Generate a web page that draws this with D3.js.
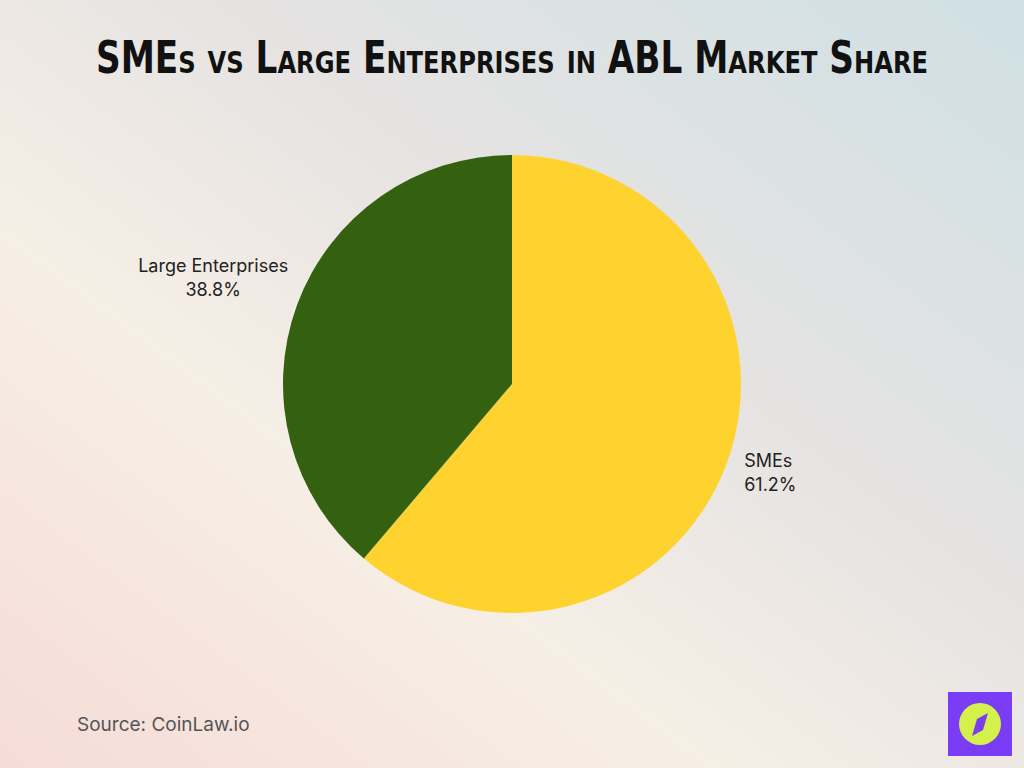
<!doctype html>
<html>
<head>
  <meta charset="utf-8">
  <script src="https://cdn.jsdelivr.net/npm/d3@7"></script>
  <style>
    body { margin: 0; }
  </style>
</head>
<body>
  <svg width="1024" height="768"></svg>
  <script>
    var categories = ["SMEs", "Large Enterprises"]
    var shares = [61.2, 38.8]
    var colors = ["#fed330", "#33610f"]

    var svg = d3.select("svg")

    // background wash
    var defs = svg.append("defs")
    var g1 = defs.append("linearGradient").attr("id", "bg")
      .attr("x1", "0").attr("y1", "1").attr("x2", "1").attr("y2", "0")
    g1.append("stop").attr("offset", "0").attr("stop-color", "#f6dcd6")
    g1.append("stop").attr("offset", "0.35").attr("stop-color", "#f6efe6")
    g1.append("stop").attr("offset", "0.6").attr("stop-color", "#e6e3e2")
    g1.append("stop").attr("offset", "1").attr("stop-color", "#cfe0e4")
    svg.append("rect").attr("width", 1024).attr("height", 768).attr("fill", "url(#bg)")

    svg.append("text")
      .attr("x", 96).attr("y", 73)
      .attr("textLength", 832).attr("lengthAdjust", "spacingAndGlyphs")
      .style("font-family", "'DejaVu Sans Condensed', sans-serif")
      .style("font-weight", "bold")
      .style("font-variant", "small-caps")
      .style("font-size", "44px")
      .attr("fill", "#111")
      .text("SMEs vs Large Enterprises in ABL Market Share")

    var cx = 512, cy = 384, r = 229
    var pie = d3.pie().sort(null).value(function(d){ return d })
    var arcs = pie(shares)
    var arc = d3.arc().innerRadius(0).outerRadius(r)

    var g = svg.append("g").attr("transform", "translate(" + cx + "," + cy + ")")
    g.selectAll("path").data(arcs).enter().append("path")
      .attr("d", arc)
      .attr("fill", function(d, i){ return colors[i] })

    // right-side labels sit close to the rim, left-side ones further out and centred
    function isLeft(d){ return (d.startAngle + d.endAngle) / 2 > Math.PI }
    var nearArc = d3.arc().innerRadius(r * 1.08).outerRadius(r * 1.08)
    var farArc = d3.arc().innerRadius(r * 1.39).outerRadius(r * 1.39)
    g.selectAll("text.lbl").data(arcs).enter().append("text")
      .attr("class", "lbl")
      .attr("transform", function(d){ return "translate(" + (isLeft(d) ? farArc : nearArc).centroid(d) + ")" })
      .attr("text-anchor", function(d){ return isLeft(d) ? "middle" : "start" })
      .style("font-family", "Inter, sans-serif")
      .style("font-size", "18px")
      .attr("fill", "#222")
      .each(function(d, i){
        var t = d3.select(this)
        t.append("tspan").attr("x", 0).attr("dy", "-0.15em").text(categories[i])
        t.append("tspan").attr("x", 0).attr("dy", "1.35em").text(shares[i].toFixed(1) + "%")
      })

    svg.append("text")
      .attr("x", 77).attr("y", 731)
      .style("font-family", "Inter, sans-serif")
      .style("font-size", "19px")
      .attr("fill", "#555")
      .text("Source: CoinLaw.io")

    // logo
    var logo = svg.append("g").attr("transform", "translate(948,692)")
    logo.append("rect").attr("width", 64).attr("height", 64).attr("fill", "#7a3cf5")
    logo.append("circle").attr("cx", 32).attr("cy", 32).attr("r", 21).attr("fill", "#d4f04a")
    logo.append("path").attr("d", "M40,21 L35,38 L24,44 L29,27 Z").attr("fill", "#7a3cf5")
  </script>
</body>
</html>
